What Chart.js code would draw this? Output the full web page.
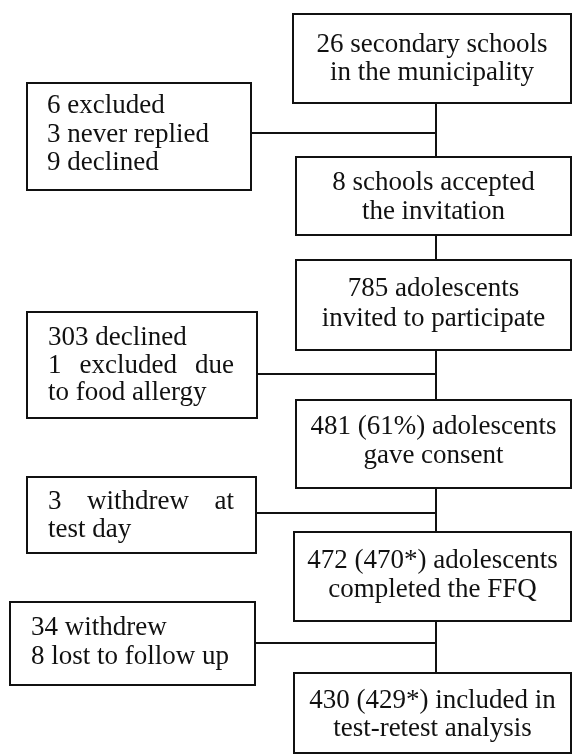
<!DOCTYPE html>
<html lang="en">
<head>
    <meta charset="UTF-8">
    <title>Participant flow</title>
    <script src="https://cdn.jsdelivr.net/npm/chart.js"></script>
    <style>
        body {
            margin: 0;
            background: #fff;
        }
        .chart-container {
            position: relative;
            width: 572px;
            height: 756px;
        }
    </style>
</head>
<body>
    <div class="chart-container">
        <canvas id="flowChart"></canvas>
    </div>

    <script>
        // text of the main steps (right column, top to bottom)
        const stepLabels = [
            ["26 secondary schools", "in the municipality"],
            ["8 schools accepted", "the invitation"],
            ["785 adolescents", "invited to participate"],
            ["481 (61%) adolescents", "gave consent"],
            ["472 (470*) adolescents", "completed the FFQ"],
            ["430 (429*) included in", "test-retest analysis"]
        ];
        // text of the drop-out boxes (left column)
        const dropLabels = [
            ["6 excluded", "3 never replied", "9 declined"],
            ["303 declined", "1 excluded due", "to food allergy"],
            ["3 withdrew at", "test day"],
            ["34 withdrew", "8 lost to follow up"]
        ];
        // lines set justified in the source
        const dropJustified = [[], [1], [0], []];

        // layout, in canvas px: [left, top, right, bottom]
        const stepBoxes = [
            [293, 14, 571, 103],
            [296, 157, 571, 235],
            [296, 260, 571, 350],
            [296, 400, 571, 488],
            [294, 532, 571, 621],
            [294, 673, 571, 753]
        ];
        const stepLineY = [[45, 73], [183, 212], [289, 319], [427, 456], [561, 590], [701, 729]];
        const dropBoxes = [
            [27, 83, 251, 190],
            [27, 312, 257, 418],
            [27, 477, 256, 553],
            [10, 602, 255, 685]
        ];
        const dropLineY = [[106, 135, 163], [338, 366, 393], [502, 530], [628, 657]];
        const dropTextX = [47, 48, 48, 31];
        const justifyRight = 234;
        const spineX = 436;
        const joinY = [133, 374, 513, 643];

        const FONT = "27px 'Liberation Serif', serif";
        const INK = "#111";

        function rect(b) {
            return [
                { x: b[0], y: b[1] }, { x: b[2], y: b[1] },
                { x: b[2], y: b[3] }, { x: b[0], y: b[3] },
                { x: b[0], y: b[1] }
            ];
        }

        function lineSet(points, cap) {
            return {
                data: points,
                showLine: true,
                borderColor: INK,
                borderWidth: 2,
                borderCapStyle: cap,
                borderJoinStyle: "miter",
                pointRadius: 0,
                fill: false,
                tension: 0
            };
        }

        const datasets = [];
        stepBoxes.forEach(b => datasets.push(lineSet(rect(b), "square")));
        dropBoxes.forEach(b => datasets.push(lineSet(rect(b), "square")));
        // vertical spine between the step boxes
        for (let i = 0; i < stepBoxes.length - 1; i++) {
            datasets.push(lineSet([{ x: spineX, y: stepBoxes[i][3] }, { x: spineX, y: stepBoxes[i + 1][1] }], "butt"));
        }
        // horizontal links from drop-out boxes to the spine
        dropBoxes.forEach((b, i) => {
            datasets.push(lineSet([{ x: b[2], y: joinY[i] }, { x: spineX, y: joinY[i] }], "butt"));
        });

        const textPlugin = {
            id: "boxText",
            afterDatasetsDraw(chart) {
                const { ctx, scales: { x, y } } = chart;
                ctx.save();
                ctx.font = FONT;
                ctx.fillStyle = INK;
                ctx.textBaseline = "middle";

                ctx.textAlign = "center";
                stepLabels.forEach((lines, i) => {
                    const b = stepBoxes[i];
                    const cx = x.getPixelForValue((b[0] + b[2]) / 2);
                    lines.forEach((t, j) => ctx.fillText(t, cx, y.getPixelForValue(stepLineY[i][j])));
                });

                ctx.textAlign = "left";
                dropLabels.forEach((lines, i) => {
                    const left = x.getPixelForValue(dropTextX[i]);
                    lines.forEach((t, j) => {
                        const py = y.getPixelForValue(dropLineY[i][j]);
                        if (dropJustified[i].includes(j)) {
                            const words = t.split(" ");
                            const widths = words.map(w => ctx.measureText(w).width);
                            const total = widths.reduce((s, w) => s + w, 0);
                            const gap = (x.getPixelForValue(justifyRight) - left - total) / (words.length - 1);
                            let px = left;
                            words.forEach((w, k) => {
                                ctx.fillText(w, px, py);
                                px += widths[k] + gap;
                            });
                        } else {
                            ctx.fillText(t, left, py);
                        }
                    });
                });
                ctx.restore();
            }
        };

        new Chart(document.getElementById("flowChart"), {
            type: "scatter",
            data: { datasets: datasets },
            options: {
                responsive: true,
                maintainAspectRatio: false,
                animation: false,
                events: [],
                layout: { padding: 0 },
                plugins: {
                    legend: { display: false },
                    tooltip: { enabled: false }
                },
                scales: {
                    x: { type: "linear", min: 0, max: 572, display: false },
                    y: { type: "linear", min: 0, max: 756, reverse: true, display: false }
                }
            },
            plugins: [textPlugin]
        });
    </script>
</body>
</html>
